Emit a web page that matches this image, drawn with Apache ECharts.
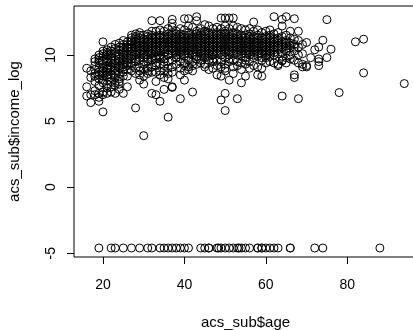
<!DOCTYPE html>
<html><head><meta charset="utf-8">
<script src="https://cdn.jsdelivr.net/npm/echarts@6/dist/echarts.min.js"></script>
<style>html,body{margin:0;padding:0;background:#fff}#c{width:413px;height:330px}</style>
</head><body><div id="c"></div>
<script>
// log income values observed at each age
const incomeByAge = [
 [16,[9.0,7.6,6.9]],
 [17,[6.4,8.3,7.0,8.8]],
 [18,[9.7,8.4,8.9,7.3,7.0,9.2,8.0,9.5,8.6]],
 [19,[6.5,6.8,10.0,9.4,8.7,8.2,7.7,9.0,9.8,7.1,8.5,9.6]],
 [20,[5.7,11.0,10.1,9.3,8.8,8.4,7.9,7.2,9.6,10.3,8.1,9.0,9.9,7.0,8.6]],
 [21,[10.4,9.7,9.2,8.7,8.3,7.8,7.1,10.0,9.5,8.9,10.2,9.0,8.5,7.5]],
 [22,[10.3,9.9,9.4,8.9,8.5,8.0,7.2,10.6,9.6,9.1,7.6,8.3,9.8,10.1]],
 [23,[10.8,10.2,9.6,9.2,8.8,8.3,7.9,7.1,10.5,9.9,9.4,8.6,7.7,9.0]],
 [24,[10.9,10.4,9.9,9.5,9.0,8.6,8.0,7.4,10.6,10.1,9.7,9.2,8.2,7.8]],
 [25,[11.1,10.6,10.2,9.8,9.3,8.9,8.4,7.1,10.8,10.4,9.6,9.1,8.7,10.0]],
 [26,[11.0,10.5,10.0,9.6,9.2,8.4,7.6,10.8,10.3,9.8,9.4,8.9,10.6]],
 [27,[11.5,11.0,10.5,10.1,9.7,9.2,8.8,11.3,10.8,10.3,9.9,9.4,10.6,11.1]],
 [28,[11.6,11.2,10.8,10.4,10.0,9.5,9.0,6.0,8.6,11.0,10.6,10.2,9.7,11.4]],
 [29,[11.7,11.3,10.9,10.5,10.1,9.6,9.1,8.5,8.1,11.1,10.7,10.3,9.8,8.8,11.5]],
 [30,[11.5,11.0,10.6,10.2,9.8,9.3,8.9,7.8,3.9,8.4,11.2,10.8,10.4,10.0,9.5]],
 [31,[11.6,11.2,10.8,10.4,10.0,9.5,9.0,8.6,11.4,10.6,10.2,9.7,8.8,11.0]],
 [32,[12.6,11.8,11.3,10.9,10.5,10.1,9.6,9.1,7.1,8.7,11.1,10.7,10.3,9.8,11.5]],
 [33,[11.8,11.4,11.0,10.6,10.2,9.7,9.2,8.0,7.0,8.7,11.2,10.8,10.4,9.9,9.4]],
 [34,[12.6,11.9,11.5,11.1,10.7,10.3,9.8,9.3,8.5,6.5,11.3,10.9,10.5,10.0,8.8]],
 [35,[11.8,11.4,11.0,10.6,10.2,9.7,9.2,8.8,8.3,7.4,11.2,10.8,10.4,9.9,9.5]],
 [36,[12.0,11.6,11.2,10.8,10.4,10.0,9.5,9.0,8.6,5.3,11.4,11.0,10.6,10.1,8.2]],
 [37,[12.7,12.4,12.1,11.7,11.3,10.9,10.5,10.1,9.6,9.1,7.55,7.6,8.7,11.5,11.1,10.7,10.3]],
 [38,[11.8,11.4,11.0,10.6,10.2,9.8,9.3,9.8,11.2,10.8,10.4,10.0,11.6]],
 [39,[12.0,11.6,11.2,10.8,10.4,10.0,9.5,9.0,6.7,11.4,11.0,10.6,10.2,8.5]],
 [40,[12.75,11.9,11.5,11.1,10.7,10.3,9.9,9.4,8.8,8.1,11.3,10.9,10.5,10.1,9.2]],
 [41,[12.75,12.2,11.7,11.3,10.9,10.5,10.1,9.6,9.1,11.5,11.1,10.7,10.3,9.8,8.9]],
 [42,[12.1,11.6,11.2,10.8,10.4,10.0,9.5,8.8,7.2,11.4,11.0,10.6,10.2,9.2]],
 [43,[12.9,12.6,11.8,11.4,11.0,10.6,10.2,9.7,9.3,11.6,11.2,10.8,10.4,9.9]],
 [44,[12.0,11.5,11.1,10.7,10.3,9.9,9.4,11.3,10.9,10.5,10.1,9.6,11.7]],
 [45,[12.3,11.8,11.4,11.0,10.6,10.2,9.8,9.3,11.6,11.2,10.8,10.4,10.0,9.1]],
 [46,[12.2,11.7,11.3,10.9,10.5,10.1,9.6,8.9,11.5,11.1,10.7,10.3,9.9]],
 [47,[12.0,11.6,11.2,10.8,10.4,10.0,9.5,9.0,11.4,11.0,10.6,10.2,9.7]],
 [48,[12.1,11.7,11.3,10.9,10.5,10.1,9.6,8.5,11.5,11.1,10.7,10.3,9.2]],
 [49,[12.8,12.0,11.6,11.2,10.8,10.4,10.0,9.5,6.6,8.4,11.4,11.0,10.6,10.2,9.1]],
 [50,[12.8,12.2,11.8,11.4,11.0,10.6,10.2,9.8,9.3,8.8,7.1,5.8,9.0,11.6,11.2,10.8,10.4]],
 [51,[12.8,12.0,11.6,11.2,10.8,10.4,10.0,9.5,8.1,11.4,11.0,10.6,10.2,9.7]],
 [52,[12.8,12.2,11.7,11.3,10.9,10.5,10.1,9.6,9.1,11.5,11.1,10.7,10.3,8.6]],
 [53,[12.1,11.6,11.2,10.8,10.4,10.0,9.5,6.7,11.4,11.0,10.6,10.2,9.2]],
 [54,[12.0,11.5,11.1,10.7,10.3,9.9,9.4,7.9,11.3,10.9,10.5,10.1,8.9]],
 [55,[11.9,11.5,11.1,10.7,10.3,9.8,9.3,8.4,11.3,10.9,10.5,10.1,9.6]],
 [56,[12.0,11.6,11.2,10.8,10.4,10.0,9.5,11.4,11.0,10.6,10.2,9.0]],
 [57,[12.5,11.8,11.4,11.0,10.6,10.2,9.8,9.2,11.2,10.8,10.4,10.0]],
 [58,[11.9,11.5,11.1,10.7,10.3,9.9,9.1,8.5,11.3,10.9,10.5,10.1]],
 [59,[11.7,11.3,10.9,10.5,10.1,9.6,9.0,8.4,11.1,10.7,10.3,9.8]],
 [60,[11.8,11.4,11.0,10.6,10.2,9.8,9.4,11.2,10.8,10.4,10.0]],
 [61,[11.9,11.5,11.1,10.7,10.3,9.9,11.3,10.9,10.5,10.1,9.5]],
 [62,[12.9,11.6,11.2,10.8,10.4,10.0,9.4,11.0,10.6,10.2]],
 [63,[11.7,11.3,10.9,10.5,10.1,9.3,11.1,10.7,9.2]],
 [64,[12.7,12.2,11.4,11.0,10.6,10.2,9.6,9.55,6.9,10.8,9.9]],
 [65,[12.9,11.5,11.1,10.7,10.3,9.8,9.4,10.9,10.5]],
 [66,[11.8,11.3,10.9,10.5,10.0,9.7,10.7]],
 [67,[12.75,11.2,10.8,10.3,9.6,8.5,8.3,10.6]],
 [68,[11.8,11.1,10.6,10.0,9.4,6.7]],
 [69,[10.1,9.1,10.8,9.3]],
 [70,[10.95,9.2,9.1]],
 [71,[9.8]],
 [72,[10.4]],
 [73,[10.6,9.7,9.5,9.2]],
 [74,[11.12]],
 [75,[12.68,9.81]],
 [76,[10.44]],
 [78,[7.16]],
 [82,[11.0]],
 [84,[11.2,8.65]],
 [94,[7.84]]
];
// ages of people with (near) zero income, log value -4.6
const zeroIncomeAges = [19,22,23,25,27,29,31,32,34,35,36,37,38,39,40,41,44,45,46,46,48,48.4,49,50,51,52,53,53.4,54,55,56,58,58,59,59,60,61,62,63,66,66,72,74,88];
const zeroIncomeLog = -4.6;
const xTicks = [20,40,60,80];
const yTicks = [-5,0,5,10];

const points = [];
incomeByAge.forEach(([age, vals]) => vals.forEach(v => points.push([age, v])));
zeroIncomeAges.forEach(a => points.push([a, zeroIncomeLog]));

const font = 'Liberation Sans, Arial, Helvetica, sans-serif';
const chart = echarts.init(document.getElementById('c'), null, {renderer:'canvas'});
chart.setOption({
  animation:false,
  backgroundColor:'#fff',
  grid:{left:74, top:6, right:-4, bottom:73, show:true, borderColor:'#000', borderWidth:1,
    containLabel:false, outerBoundsMode:'none'},
  xAxis:{type:'value', min:12.88, max:97.12,
    name:'acs_sub$age', nameLocation:'middle', nameGap:58,
    nameTextStyle:{fontFamily:font, fontSize:15, color:'#000'},
    axisLine:{show:false, onZero:false}, splitLine:{show:false},
    axisTick:{show:true, length:7, customValues:xTicks, lineStyle:{color:'#000'}},
    axisLabel:{customValues:xTicks, fontFamily:font, fontSize:14, color:'#000', margin:21}
  },
  yAxis:{type:'value', min:-5.28, max:13.71,
    name:'acs_sub$income_log', nameLocation:'middle', nameGap:52,
    nameTextStyle:{fontFamily:font, fontSize:15, color:'#000'},
    axisLine:{show:false, onZero:false}, splitLine:{show:false},
    axisTick:{show:true, length:7, customValues:yTicks, lineStyle:{color:'#000'}},
    axisLabel:{customValues:yTicks, rotate:90, fontFamily:font, fontSize:14, color:'#000', margin:16}
  },
  series:[{type:'scatter', data:points, symbol:'circle', symbolSize:8,
    itemStyle:{color:'rgba(0,0,0,0)', borderColor:'#000', borderWidth:1, opacity:1}, silent:true}]
});
</script></body></html>
